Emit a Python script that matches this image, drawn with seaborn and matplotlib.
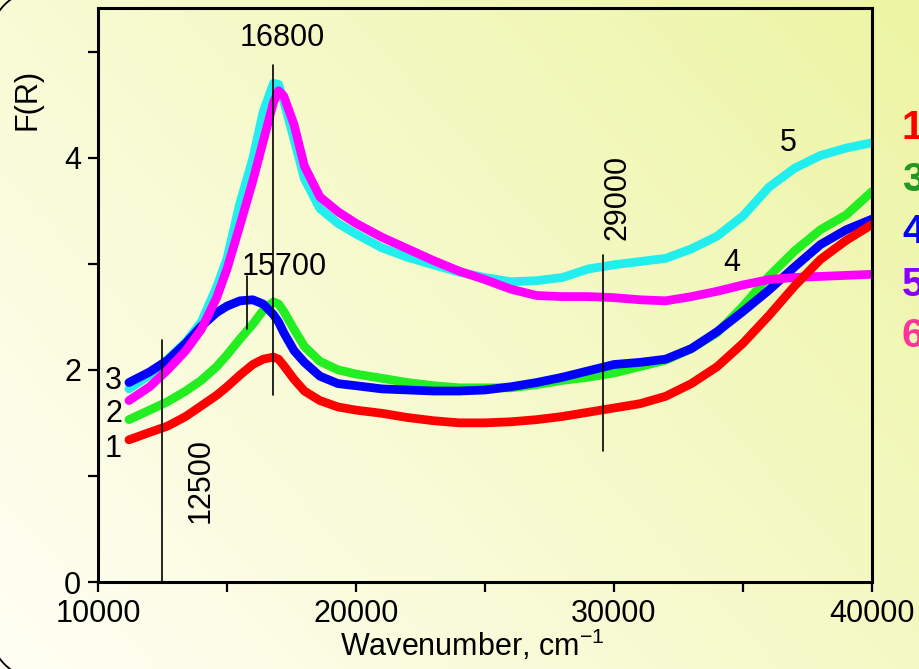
import numpy as np
import pandas as pd
import matplotlib
matplotlib.use("Agg")
import matplotlib.pyplot as plt
from matplotlib.patches import Arc
import seaborn as sns

# values
wavenumber = [11200, 12000, 12700, 13400, 14000, 14600, 15000, 15500, 16000, 16400,
              16800, 17000, 17200, 17600, 18000, 18600, 19300, 20000, 21000, 22000,
              23000, 24000, 25000, 26000, 27000, 28000, 29000, 30000, 31000, 32000,
              33000, 34000, 35000, 36000, 37000, 38000, 39000, 40000]

curve1 = [1.34, 1.41, 1.47, 1.56, 1.66, 1.76, 1.84, 1.95, 2.05, 2.10,
          2.12, 2.10, 2.04, 1.91, 1.80, 1.71, 1.65, 1.62, 1.59, 1.55,
          1.52, 1.50, 1.50, 1.51, 1.53, 1.56, 1.60, 1.64, 1.68, 1.75,
          1.87, 2.03, 2.25, 2.51, 2.79, 3.04, 3.22, 3.37]

curve2 = [1.53, 1.62, 1.70, 1.80, 1.90, 2.03, 2.14, 2.29, 2.43, 2.56,
          2.64, 2.62, 2.55, 2.38, 2.22, 2.08, 2.00, 1.96, 1.92, 1.88,
          1.85, 1.83, 1.83, 1.83, 1.86, 1.90, 1.93, 1.97, 2.03, 2.09,
          2.20, 2.35, 2.60, 2.88, 3.12, 3.32, 3.46, 3.68]

curve3 = [1.88, 1.98, 2.09, 2.25, 2.41, 2.54, 2.60, 2.65, 2.66, 2.62,
          2.52, 2.45, 2.35, 2.18, 2.07, 1.94, 1.87, 1.85, 1.82, 1.81,
          1.80, 1.80, 1.81, 1.84, 1.88, 1.93, 1.99, 2.05, 2.07, 2.10,
          2.20, 2.36, 2.55, 2.75, 2.97, 3.18, 3.32, 3.42]

curve4 = [1.71, 1.84, 2.00, 2.18, 2.38, 2.68, 2.95, 3.36, 3.78, 4.15,
          4.52, 4.63, 4.58, 4.31, 3.92, 3.63, 3.49, 3.38, 3.25, 3.14,
          3.03, 2.93, 2.85, 2.76, 2.70, 2.69, 2.69, 2.68, 2.66, 2.65,
          2.69, 2.74, 2.80, 2.85, 2.87, 2.88, 2.89, 2.90]

curve5 = [1.82, 1.95, 2.10, 2.26, 2.45, 2.78, 3.05, 3.57, 3.99, 4.43,
          4.70, 4.69, 4.53, 4.17, 3.80, 3.52, 3.38, 3.28, 3.15, 3.06,
          2.99, 2.92, 2.87, 2.83, 2.84, 2.87, 2.95, 2.99, 3.02, 3.05,
          3.14, 3.26, 3.45, 3.72, 3.90, 4.02, 4.09, 4.14]

curve_names = ["5", "2", "3", "4", "1"]
curve_colors = {"1": "#ff0000", "2": "#22ee22", "3": "#0000ff",
                "4": "#ff00ff", "5": "#22eeee"}

side_labels = ["1", "3", "4", "5", "6"]
side_colors = ["#ff0000", "#229922", "#0000ff", "#8800ff", "#ff3399"]

marks = [12500, 16780, 15770, 29590]

df = pd.DataFrame({
    "wavenumber": wavenumber * 5,
    "F": curve1 + curve2 + curve3 + curve4 + curve5,
    "curve": ["1"] * len(wavenumber) + ["2"] * len(wavenumber) + ["3"] * len(wavenumber)
             + ["4"] * len(wavenumber) + ["5"] * len(wavenumber),
})

sns.set_style("ticks")
plt.rcParams["font.family"] = ["Liberation Sans", "DejaVu Sans"]
plt.rcParams["mathtext.default"] = "regular"
plt.rcParams["text.color"] = "black"
plt.rcParams["axes.labelcolor"] = "black"

fig = plt.figure(figsize=(9.2, 6.69), dpi=100)

# yellowish gradient background
bg = fig.add_axes([0, 0, 1, 1], zorder=-10)
gx, gy = np.meshgrid(np.linspace(0, 1, 200), np.linspace(0, 1, 200))
t = 0.6 * gx + 0.4 * gy
c0 = np.array([1.0, 1.0, 0.96])
c1 = np.array([0.93, 0.96, 0.64])
img = c0[None, None, :] * (1 - t[..., None]) + c1[None, None, :] * t[..., None]
bg.imshow(img, origin="lower", extent=[0, 1, 0, 1], aspect="auto")
bg.axis("off")

# corners of the rounded frame at the left edge
for cy, th1, th2 in [(6.29, 90, 180), (0.40, 180, 270)]:
    fig.patches.append(Arc((0.40, cy), 1.0, 1.0, theta1=th1, theta2=th2,
                           transform=fig.dpi_scale_trans, color="black", lw=1.3))

ax = fig.add_axes([98 / 920, 1 - 582 / 669, 774 / 920, 574 / 669])
ax.set_facecolor("none")

sns.lineplot(data=df, x="wavenumber", y="F", hue="curve", hue_order=curve_names,
             palette=curve_colors, linewidth=6.3, estimator=None, sort=False,
             legend=False, ax=ax, solid_capstyle="round", solid_joinstyle="round")

ax.set_xlim(10000, 40000)
ax.set_ylim(0, 5.41)
ax.set_xticks([10000, 20000, 30000, 40000])
ax.set_xticks([15000, 25000, 35000], minor=True)
ax.set_yticks([0, 2, 4])
ax.set_yticks([1, 3, 5], minor=True)
ax.tick_params(which="both", direction="out", length=7, width=1.6, labelsize=22, colors="black")
ax.tick_params(axis="y", pad=5)
ax.tick_params(axis="x", pad=5)
for s in ax.spines.values():
    s.set_linewidth(2.2)
    s.set_color("black")

ax.set_xlabel("Wavenumber, cm$^{-1}$", fontsize=22)
ax.xaxis.set_label_coords(0.483, -0.08)
ax.set_ylabel("F(R)", fontsize=22)
ax.yaxis.set_label_coords(-0.072, 0.84)

# marker lines
ax.plot([marks[0], marks[0]], [0, 2.28], color="black", lw=1.2)
ax.plot([marks[1], marks[1]], [1.76, 4.87], color="black", lw=1.2)
ax.plot([marks[2], marks[2]], [2.38, 2.88], color="black", lw=1.2)
ax.plot([marks[3], marks[3]], [1.23, 3.08], color="black", lw=1.2)

fs = 22
ax.text(17150, 5.13, "16800", fontsize=fs, ha="center", va="center")
ax.text(17200, 2.97, "15700", fontsize=fs, ha="center", va="center")
ax.text(13990, 0.96, "12500", fontsize=fs, ha="center", va="center", rotation=90)
ax.text(30130, 3.62, "29000", fontsize=fs, ha="center", va="center", rotation=90)
ax.text(10600, 1.25, "1", fontsize=fs, ha="center", va="center")
ax.text(10600, 1.58, "2", fontsize=fs, ha="center", va="center")
ax.text(10600, 1.89, "3", fontsize=fs, ha="center", va="center")
ax.text(36750, 4.14, "5", fontsize=fs, ha="center", va="center")
ax.text(34580, 3.01, "4", fontsize=fs, ha="center", va="center")

side_y = [128, 180, 232, 285, 336]
for lab, col, yy in zip(side_labels, side_colors, side_y):
    fig.text(902 / 920, 1 - yy / 669, lab, color=col, fontsize=29, fontweight="bold",
             ha="left", va="center")

fig.savefig("out.png", dpi=100)
